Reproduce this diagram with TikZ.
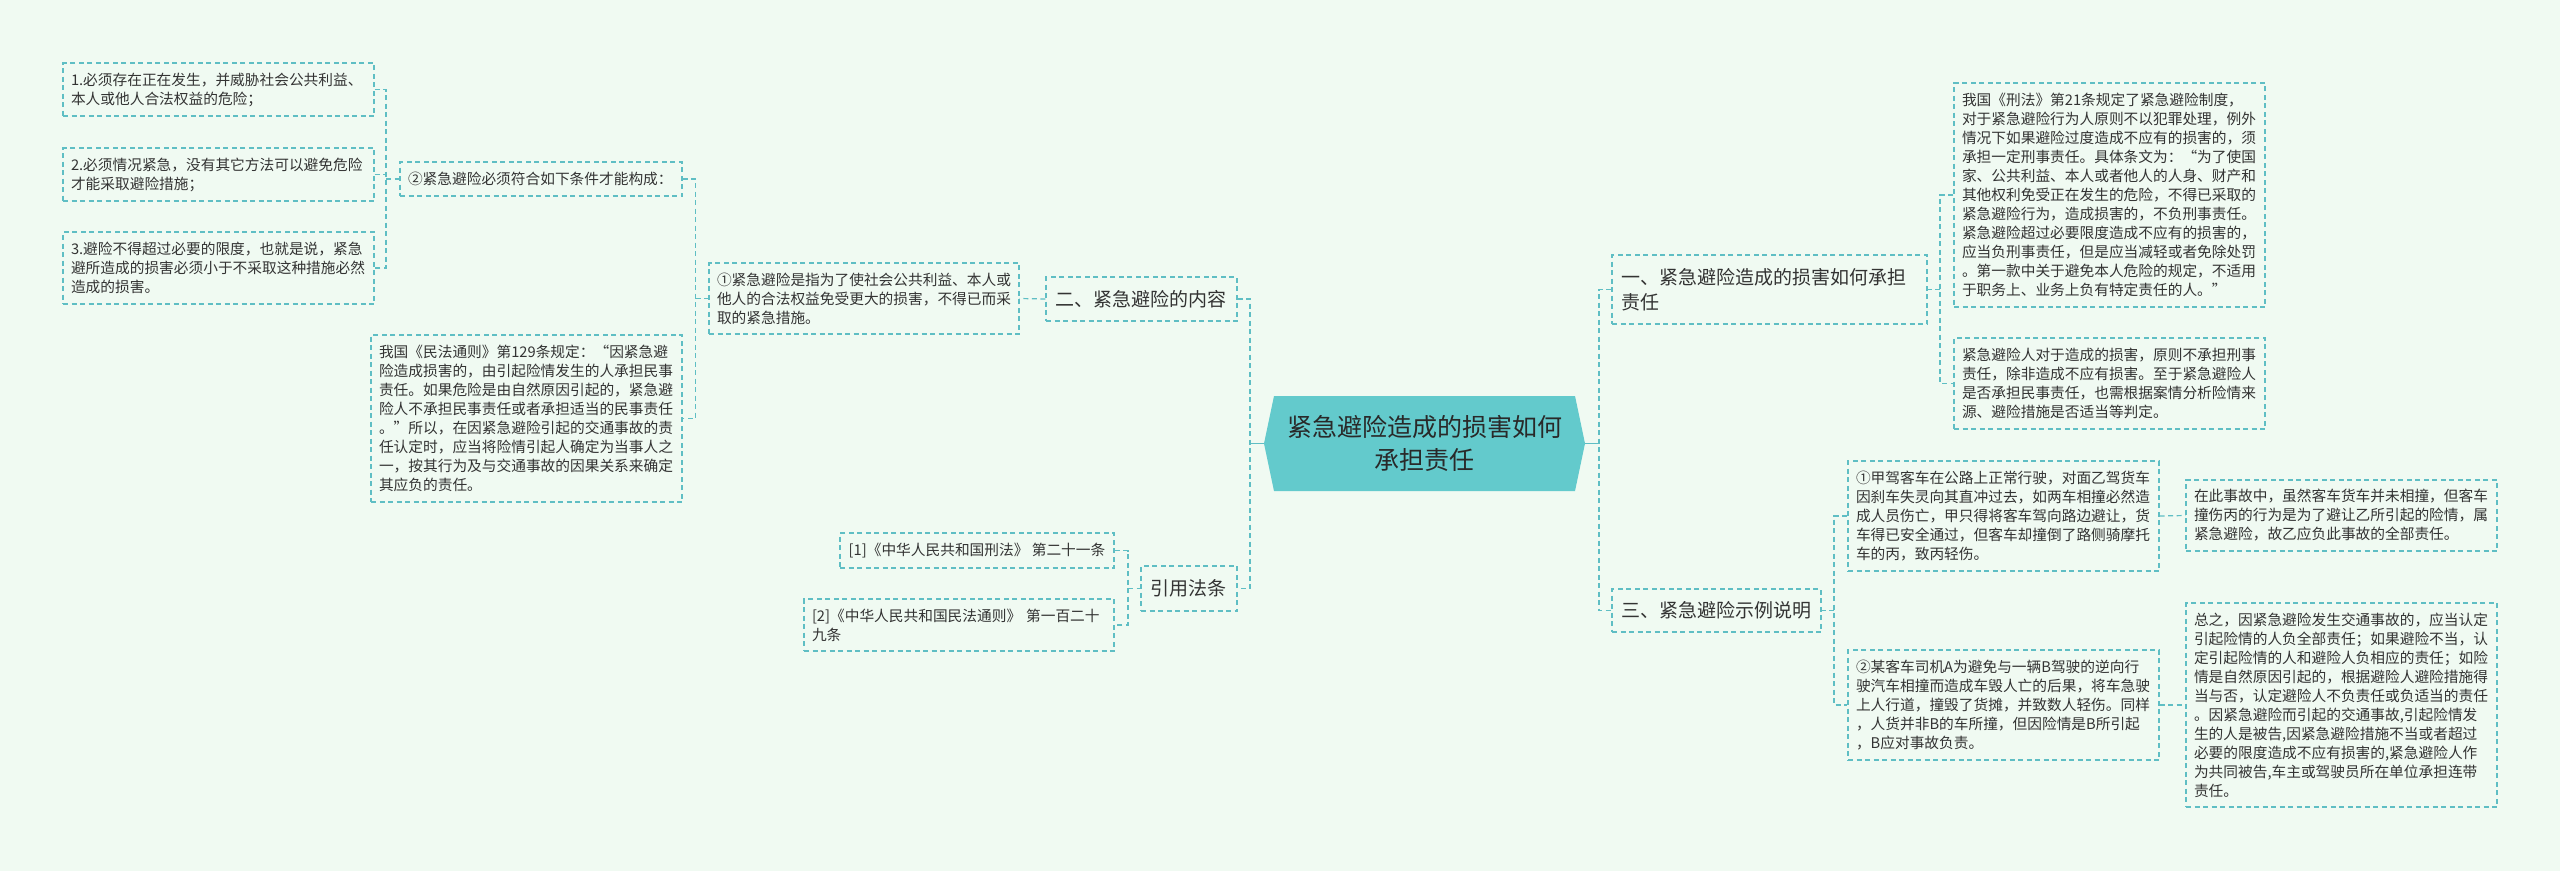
\documentclass[tikz,border=0pt]{standalone}
\usepackage{fontspec}
\setmainfont{Noto Sans CJK SC}
\definecolor{bgC}{RGB}{240,250,242}
\definecolor{lineC}{RGB}{95,190,196}
\definecolor{rootC}{RGB}{99,202,204}
\definecolor{txtC}{RGB}{51,51,51}
\tikzset{
  leaf/.style={draw=lineC, line width=1.2pt, dash pattern=on 5pt off 3.5pt,
    text=txtC, font=\fontsize{14.7}{19}\selectfont, inner xsep=8pt, inner ysep=0pt, align=left},
  sect/.style={draw=lineC, line width=1.2pt, dash pattern=on 5pt off 3.5pt,
    text=txtC, font=\fontsize{19}{25}\selectfont, inner xsep=9.5pt, inner ysep=0pt, align=left},
  conn/.style={draw=lineC, line width=1.2pt, dash pattern=on 5pt off 3.5pt},
  rootlink/.style={draw=lineC, line width=1.6pt},
  roottext/.style={text=txtC!80!black, font=\fontsize{25}{33}\selectfont, align=center,
    minimum width=321pt, minimum height=95pt, inner sep=0pt}
}
\begin{document}
\begin{tikzpicture}[x=1pt,y=-1pt]
\fill[bgC] (0,0) rectangle (2560,871);
\useasboundingbox (0,0) rectangle (2560,871);

% root hexagon
\fill[rootC] (1264,443.5) -- (1274,396) -- (1575,396) -- (1585,443.5) -- (1575,491) -- (1274,491) -- cycle;
\node[roottext] (root) at (1424.5,443.5) {紧急避险造成的损害如何\\承担责任};

% left side
\node[leaf, text width=295pt, minimum height=53pt] (c1) at (218.5,89.5) {1.必须存在正在发生，并威胁社会公共利益、\\本人或他人合法权益的危险；};
\node[leaf, text width=295pt, minimum height=53pt] (c2) at (218.5,174.5) {2.必须情况紧急，没有其它方法可以避免危险\\才能采取避险措施；};
\node[leaf, text width=295pt, minimum height=72pt] (c3) at (218.5,268) {3.避险不得超过必要的限度，也就是说，紧急\\避所造成的损害必须小于不采取这种措施必然\\造成的损害。};
\node[leaf, text width=266pt, minimum height=34pt] (b2) at (541,179) {②紧急避险必须符合如下条件才能构成：};
\node[leaf, text width=294pt, minimum height=71pt] (b1) at (864,298.5) {①紧急避险是指为了使社会公共利益、本人或\\他人的合法权益免受更大的损害，不得已而采\\取的紧急措施。};
\node[leaf, text width=295pt, minimum height=167pt] (mf) at (526.5,418.5) {我国《民法通则》第129条规定：“因紧急避\\险造成损害的，由引起险情发生的人承担民事\\责任。如果危险是由自然原因引起的，紧急避\\险人不承担民事责任或者承担适当的民事责任\\。”所以，在因紧急避险引起的交通事故的责\\任认定时，应当将险情引起人确定为当事人之\\一，按其行为及与交通事故的因果关系来确定\\其应负的责任。};
\node[sect, text width=172pt, minimum height=44pt] (s2) at (1141.5,299) {二、紧急避险的内容};
\node[leaf, minimum width=274pt, minimum height=35pt] (r1) at (977,550.5) {[1]《中华人民共和国刑法》~第二十一条};
\node[leaf, text width=294pt, minimum height=52pt] (r2) at (959,625) {[2]《中华人民共和国民法通则》~第一百二十\\九条};
\node[sect, text width=77pt, minimum height=45pt] (yy) at (1189,588.5) {引用法条};

% right side
\node[sect, text width=296pt, minimum height=69pt] (s1) at (1769.5,289.5) {一、紧急避险造成的损害如何承担\\责任};
\node[leaf, text width=295pt, minimum height=224pt] (xf) at (2109.5,195) {我国《刑法》第21条规定了紧急避险制度，\\对于紧急避险行为人原则不以犯罪处理，例外\\情况下如果避险过度造成不应有的损害的，须\\承担一定刑事责任。具体条文为：“为了使国\\家、公共利益、本人或者他人的人身、财产和\\其他权利免受正在发生的危险，不得已采取的\\紧急避险行为，造成损害的，不负刑事责任。\\紧急避险超过必要限度造成不应有的损害的，\\应当负刑事责任，但是应当减轻或者免除处罚\\。第一款中关于避免本人危险的规定，不适用\\于职务上、业务上负有特定责任的人。”};
\node[leaf, text width=295pt, minimum height=91pt] (jr) at (2109.5,383.5) {紧急避险人对于造成的损害，原则不承担刑事\\责任，除非造成不应有损害。至于紧急避险人\\是否承担民事责任，也需根据案情分析险情来\\源、避险措施是否适当等判定。};
\node[sect, text width=190pt, minimum height=43pt] (s3) at (1716.5,610.5) {三、紧急避险示例说明};
\node[leaf, text width=295pt, minimum height=110pt] (e1) at (2003.5,516) {①甲驾客车在公路上正常行驶，对面乙驾货车\\因刹车失灵向其直冲过去，如两车相撞必然造\\成人员伤亡，甲只得将客车驾向路边避让，货\\车得已安全通过，但客车却撞倒了路侧骑摩托\\车的丙，致丙轻伤。};
\node[leaf, text width=295pt, minimum height=71pt] (e1r) at (2341.5,515.5) {在此事故中，虽然客车货车并未相撞，但客车\\撞伤丙的行为是为了避让乙所引起的险情，属\\紧急避险，故乙应负此事故的全部责任。};
\node[leaf, text width=295pt, minimum height=110pt] (e2) at (2003.5,705) {②某客车司机A为避免与一辆B驾驶的逆向行\\驶汽车相撞而造成车毁人亡的后果，将车急驶\\上人行道，撞毁了货摊，并致数人轻伤。同样\\，人货并非B的车所撞，但因险情是B所引起\\，B应对事故负责。};
\node[leaf, text width=295pt, minimum height=204pt] (e2r) at (2341.5,705) {总之，因紧急避险发生交通事故的，应当认定\\引起险情的人负全部责任；如果避险不当，认\\定引起险情的人和避险人负相应的责任；如险\\情是自然原因引起的，根据避险人避险措施得\\当与否，认定避险人不负责任或负适当的责任\\。因紧急避险而引起的交通事故,引起险情发\\生的人是被告,因紧急避险措施不当或者超过\\必要的限度造成不应有损害的,紧急避险人作\\为共同被告,车主或驾驶员所在单位承担连带\\责任。};

% bus coordinates
\coordinate (busA) at (386,0);
\coordinate (busB) at (695.5,0);
\coordinate (busC) at (1250,0);
\coordinate (busD) at (1128,0);
\coordinate (busE) at (1599,0);
\coordinate (busF) at (1940,0);
\coordinate (busG) at (1834,0);

% connectors
\draw[conn] (c1.east) -| (busA |- c3.east) -- (c3.east);
\draw[conn] (c2.east) -- (busA |- c2.east);
\draw[conn] (busA |- b2.west) -- (b2.west);

\draw[conn] (b2.east) -| (busB |- mf.east) -- (mf.east);
\draw[conn] (busB |- b1.west) -- (b1.west);

\draw[conn] (s2.west) -- (b1.east);

\draw[conn] (s2.east) -| (busC |- yy.east) -- (yy.east);
\draw[rootlink] (root.west) -- (busC |- root.west);

\draw[conn] (r1.east) -| (busD |- r2.east) -- (r2.east);
\draw[conn] (busD |- yy.west) -- (yy.west);

\draw[conn] (s1.west) -| (busE |- s3.west) -- (s3.west);
\draw[rootlink] (root.east) -- (busE |- root.east);

\draw[conn] (xf.west) -| (busF |- jr.west) -- (jr.west);
\draw[conn] (busF |- s1.east) -- (s1.east);

\draw[conn] (e1.west) -| (busG |- e2.west) -- (e2.west);
\draw[conn] (busG |- s3.east) -- (s3.east);

\draw[conn] (e1.east) -- (e1r.west);
\draw[conn] (e2.east) -- (e2r.west);
\end{tikzpicture}
\end{document}
